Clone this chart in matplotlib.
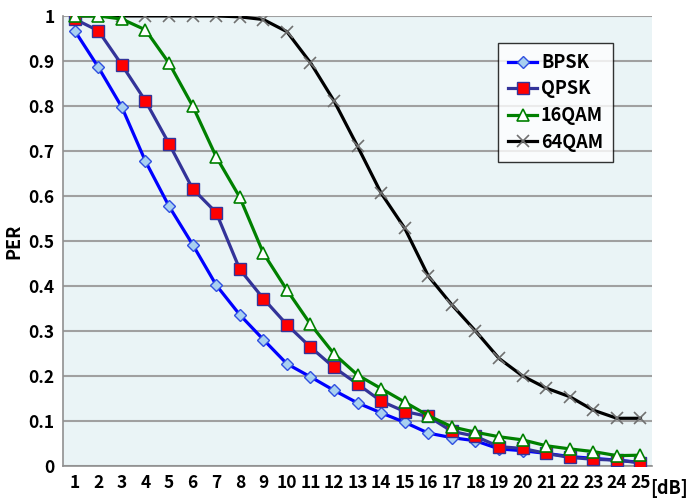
import numpy as np
import matplotlib.pyplot as plt

plt.rcParams['font.family'] = ['Noto Sans CJK KR', 'DejaVu Sans']

snr_db = list(range(1, 26))

bpsk = [0.967, 0.886, 0.797, 0.677, 0.577, 0.492, 0.402, 0.336, 0.281, 0.227,
        0.198, 0.168, 0.140, 0.118, 0.097, 0.073, 0.063, 0.056, 0.038, 0.034,
        0.028, 0.021, 0.017, 0.013, 0.008]
qpsk = [0.993, 0.967, 0.891, 0.811, 0.716, 0.616, 0.563, 0.437, 0.372, 0.314,
        0.264, 0.219, 0.182, 0.144, 0.121, 0.110, 0.077, 0.066, 0.043, 0.039,
        0.028, 0.019, 0.015, 0.013, 0.007]
qam16 = [1.0, 1.0, 0.993, 0.969, 0.895, 0.800, 0.687, 0.597, 0.473, 0.391,
         0.315, 0.249, 0.202, 0.172, 0.142, 0.112, 0.087, 0.075, 0.065, 0.058,
         0.045, 0.038, 0.032, 0.023, 0.024]
qam64 = [1.0, 1.0, 1.0, 1.0, 1.0, 1.0, 1.0, 0.998, 0.992, 0.965,
         0.896, 0.811, 0.710, 0.606, 0.528, 0.422, 0.358, 0.300, 0.239, 0.200,
         0.173, 0.154, 0.124, 0.106, 0.106]

fig = plt.figure(figsize=(6.9, 5.04), dpi=100)
ax = fig.add_axes([0.0913, 0.0754, 0.854, 0.893])
ax.set_facecolor('#eaf4f6')

ax.plot(snr_db, bpsk, color='#0000ff', lw=2.3, marker='D', ms=6,
        mfc='#a8d0f0', mec='#3050e0', mew=1, label='BPSK', zorder=3)
ax.plot(snr_db, qpsk, color='#333399', lw=2.3, marker='s', ms=8,
        mfc='#ff0000', mec='#333399', mew=1, label='QPSK', zorder=4)
ax.plot(snr_db, qam16, color='#008000', lw=2.3, marker='^', ms=9,
        mfc='white', mec='#008000', mew=1.2, label='16QAM', zorder=5)
ax.plot(snr_db, qam64, color='black', lw=2.3, marker='x', ms=9,
        mec='#707070', mew=1.2, label='64QAM', zorder=3)

ax.set_xlim(0.5, 25.5)
ax.set_ylim(0, 1)
ax.set_xticks(snr_db)
ax.set_xticklabels([str(v) for v in snr_db])
ax.set_yticks(np.arange(0, 1.01, 0.1))
ax.set_yticklabels(['0', '0.1', '0.2', '0.3', '0.4', '0.5', '0.6', '0.7',
                    '0.8', '0.9', '1'])
ax.yaxis.grid(True, color='#a0a0a0', lw=1.5)
ax.set_axisbelow(True)
ax.tick_params(length=0, labelsize=12.5, pad=6)
for lbl in ax.get_xticklabels() + ax.get_yticklabels():
    lbl.set_fontweight('bold')
for side in ['top', 'right']:
    ax.spines[side].set_visible(False)
ax.spines['left'].set_color('#909090')
ax.spines['bottom'].set_color('#909090')
ax.spines['left'].set_linewidth(1.2)
ax.spines['bottom'].set_linewidth(1.2)

ax.set_ylabel('PER', fontsize=13, fontweight='bold', labelpad=4)
fig.text(0.97, 0.03, '[dB]', fontsize=13, fontweight='bold',
         ha='center', va='center')

leg = ax.legend(loc='upper left', bbox_to_anchor=(0.739, 0.94),
                borderaxespad=0, frameon=True, fancybox=False,
                edgecolor='black', handlelength=1.6, handletextpad=0.2,
                borderpad=0.55, labelspacing=0.42,
                prop={'weight': 'bold', 'size': 13})
leg.get_frame().set_linewidth(1.0)

fig.savefig('out.png', dpi=100)
